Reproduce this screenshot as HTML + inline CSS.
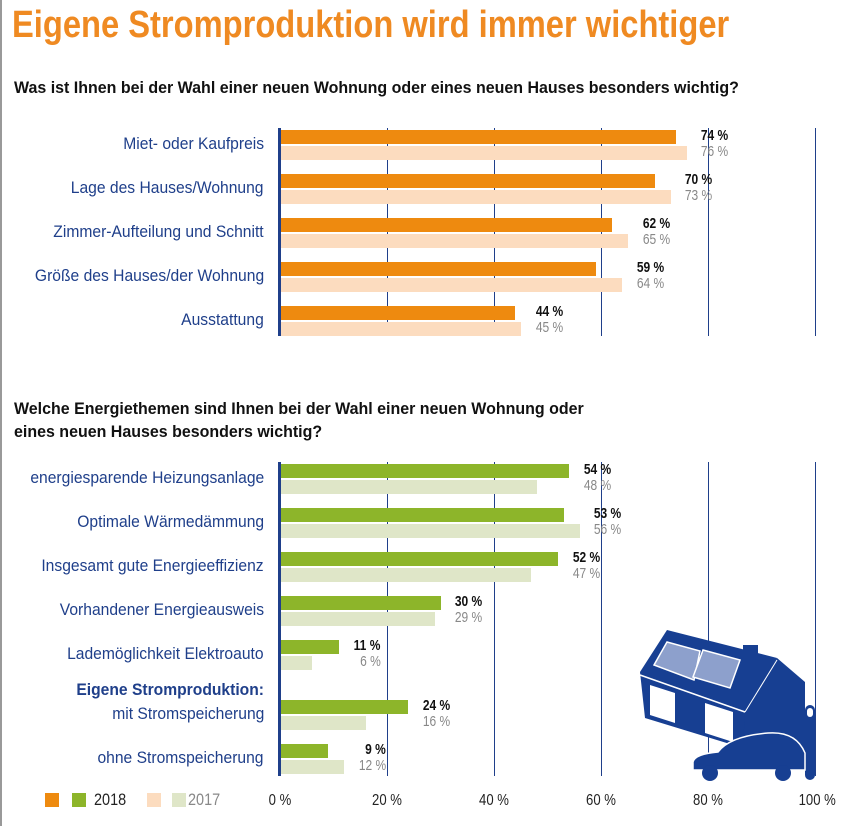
<!DOCTYPE html>
<html><head><meta charset="utf-8"><style>
body{margin:0;width:844px;height:826px;background:#fff;position:relative;overflow:hidden;font-family:"Liberation Sans",sans-serif}
.a{position:absolute;white-space:nowrap}
.t{left:12px;top:4px;font-size:38px;font-weight:bold;color:#ef8a22;transform:scaleX(0.86);transform-origin:left}
.q{font-size:17px;font-weight:bold;color:#111;left:14px;transform:scaleX(0.94);transform-origin:left}
.l{right:580px;font-size:17px;color:#1f3f8a;line-height:20px;transform:scaleX(0.92);transform-origin:right}
.b{position:absolute;height:14px}
.v1{font-size:15px;font-weight:bold;color:#111;text-align:right;line-height:14px;transform:scaleX(0.8);transform-origin:right}
.v2{font-size:15px;color:#888;text-align:right;line-height:14px;transform:scaleX(0.8);transform-origin:right}
.g{position:absolute;width:1px;background:#1f3f8a}
.x{font-size:16px;color:#222;top:792px;transform:scaleX(0.82)}
</style></head><body>
<div class="a" style="left:0;top:0;width:2px;height:826px;background:#999"></div>
<div class="a t">Eigene Stromproduktion wird immer wichtiger</div>
<div class="a q" style="top:78px">Was ist Ihnen bei der Wahl einer neuen Wohnung oder eines neuen Hauses besonders wichtig?</div>
<div class="a q" style="top:397px;line-height:23px">Welche Energiethemen sind Ihnen bei der Wahl einer neuen Wohnung oder<br>eines neuen Hauses besonders wichtig?</div>
<div id="c"></div>
<svg class="a" style="left:0;top:0" width="844" height="826">
<g fill="#173f92">
<polygon points="743,708 777,658 805,682 805,770 743,770"/>
<polygon points="640,672 667,630 777,658 745,710 743,748 645,718"/>
<rect x="743" y="645" width="15" height="27"/>
<rect x="805" y="705" width="10" height="75" rx="5"/>
</g>
<line x1="640" y1="675" x2="745" y2="712" stroke="#fff" stroke-width="1.5"/>
<line x1="745" y1="712" x2="777" y2="660" stroke="#fff" stroke-width="1"/>
<polygon points="650,685 675,693 675,723 650,715" fill="#fff"/>
<polygon points="705,703 733,712 733,742 705,733" fill="#fff"/>
<polygon points="667,642 700,651 694,680 654,665" fill="#8da0cc" stroke="#fff" stroke-width="1.5"/>
<polygon points="703,650 740,660 730,688 693,677" fill="#8da0cc" stroke="#fff" stroke-width="1.5"/>
<path d="M693,770 v-8 q2,-8 25,-10 q12,-16 50,-19 q28,-2 37,20 v17 z" fill="#173f92" stroke="#fff" stroke-width="1.5"/>
<circle cx="710" cy="773" r="8" fill="#173f92"/><circle cx="783" cy="773" r="8" fill="#173f92"/>
<rect x="807" y="708" width="6" height="9" rx="3" fill="#fff"/>
</svg>
<div class="a" style="left:45px;top:793px;width:14px;height:14px;background:#ee8a0f"></div>
<div class="a" style="left:72px;top:793px;width:14px;height:14px;background:#8db52a"></div>
<div class="a" style="left:94px;top:790px;font-size:17px;color:#222;transform:scaleX(0.85);transform-origin:left">2018</div>
<div class="a" style="left:147px;top:793px;width:14px;height:14px;background:#fcdcbf"></div>
<div class="a" style="left:172px;top:793px;width:14px;height:14px;background:#dfe6c8"></div>
<div class="a" style="left:188px;top:790px;font-size:17px;color:#888;transform:scaleX(0.85);transform-origin:left">2017</div>
<script>
var X0=280,S=5.35,h='';
function chart(top,bot,rows,c1,c2){
 h+='<div class="g" style="left:278px;width:3px;top:'+top+'px;height:'+(bot-top)+'px"></div>';
 for(var k=1;k<=5;k++)h+='<div class="g" style="left:'+Math.round(X0+k*20*S)+'px;top:'+top+'px;height:'+(bot-top)+'px"></div>';
 rows.forEach(function(r){var y=r[3];
  if(r[0])h+='<div class="a l" style="top:'+(y+4)+'px">'+r[0]+'</div>';
  h+='<div class="b" style="left:281px;top:'+y+'px;width:'+(r[1]*S-1)+'px;background:'+c1+'"></div>';
  h+='<div class="b" style="left:281px;top:'+(y+16)+'px;width:'+(r[2]*S-1)+'px;background:'+c2+'"></div>';
  var rr=844-(X0+Math.max(r[1],r[2])*S+42);
  h+='<div class="a v1" style="right:'+rr+'px;top:'+(y-1)+'px">'+r[1]+' %</div>';
  h+='<div class="a v2" style="right:'+rr+'px;top:'+(y+15)+'px">'+r[2]+' %</div>';});
}
chart(128,336,[["Miet- oder Kaufpreis",74,76,130],["Lage des Hauses/Wohnung",70,73,174],["Zimmer-Aufteilung und Schnitt",62,65,218],["Größe des Hauses/der Wohnung",59,64,262],["Ausstattung",44,45,306]],"#ee8a0f","#fcdcbf");
chart(462,776,[["energiesparende Heizungsanlage",54,48,464],["Optimale Wärmedämmung",53,56,508],["Insgesamt gute Energieeffizienz",52,47,552],["Vorhandener Energieausweis",30,29,596],["Lademöglichkeit Elektroauto",11,6,640],["mit Stromspeicherung",24,16,700],["ohne Stromspeicherung",9,12,744]],"#8db52a","#dfe6c8");
h+='<div class="a l" style="top:680px;font-weight:bold">Eigene Stromproduktion:</div>';
[0,20,40,60,80,100].forEach(function(p){h+='<div class="a x" style="left:'+(X0+p*S-20)+'px;width:40px;text-align:center">'+p+' %</div>';});
document.getElementById('c').innerHTML=h;
</script>
</body></html>
